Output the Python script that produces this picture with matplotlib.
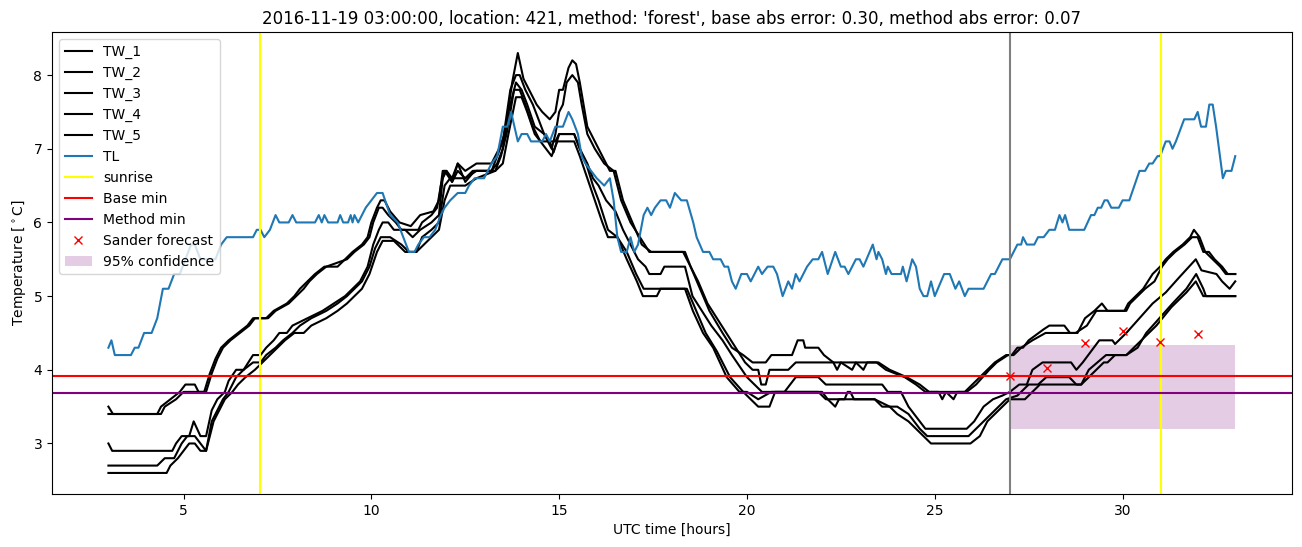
import numpy as np
import matplotlib
matplotlib.use("Agg")
import matplotlib.pyplot as plt

# (hour, temperature) pairs
tw_1 = [(3.0, 3.5), (3.12, 3.4), (4.3, 3.4), (4.4, 3.5), (4.65, 3.6), (4.9, 3.7), (5.05, 3.8), (5.3, 3.8),
        (5.4, 3.7), (5.55, 3.7), (5.7, 3.95), (5.85, 4.15), (6.0, 4.3), (6.2, 4.4), (6.45, 4.5), (6.7, 4.6),
        (6.85, 4.7), (7.2, 4.7), (7.4, 4.8), (7.75, 4.9), (7.95, 5.0), (8.1, 5.1), (8.3, 5.2), (8.5, 5.3),
        (8.75, 5.4), (9.1, 5.4), (9.3, 5.5), (9.5, 5.6), (9.75, 5.7), (9.9, 5.8), (10.0, 6.0), (10.15, 6.2),
        (10.25, 6.3), (10.35, 6.3), (10.5, 6.15), (10.75, 6.0), (11.05, 5.95), (11.3, 6.1), (11.65, 6.15),
        (11.8, 6.3), (11.9, 6.7), (12.0, 6.7), (12.15, 6.6), (12.3, 6.8), (12.5, 6.7), (12.8, 6.8),
        (13.2, 6.8), (13.4, 7.0), (13.55, 7.2), (13.75, 7.9), (13.9, 8.3), (14.05, 7.95), (14.2, 7.8),
        (14.4, 7.6), (14.55, 7.5), (14.75, 7.4), (14.9, 7.5), (15.0, 7.8), (15.1, 7.8), (15.25, 8.1),
        (15.35, 8.2), (15.45, 8.15), (15.55, 7.9), (15.75, 7.3), (15.95, 7.1), (16.15, 6.9), (16.35, 6.7),
        (16.5, 6.7), (16.7, 6.3), (16.95, 6.0), (17.2, 5.7), (17.45, 5.6), (18.35, 5.6), (18.5, 5.4),
        (18.75, 5.1), (19.0, 4.8), (19.35, 4.5), (19.6, 4.3), (19.9, 4.2), (20.15, 4.1), (20.5, 4.1),
        (20.65, 4.2), (21.2, 4.2), (21.35, 4.4), (21.5, 4.4), (21.55, 4.3), (21.9, 4.3), (22.05, 4.2),
        (22.3, 4.1), (23.5, 4.1), (23.8, 4.0), (24.25, 3.9), (24.6, 3.8), (24.85, 3.7), (25.8, 3.7),
        (26.0, 3.8), (26.4, 4.0), (26.6, 4.1), (26.9, 4.2), (27.05, 4.2), (27.2, 4.3), (27.35, 4.3),
        (27.5, 4.4), (27.9, 4.55), (28.05, 4.6), (28.45, 4.6), (28.6, 4.5), (28.8, 4.5), (29.0, 4.7),
        (29.25, 4.8), (29.45, 4.9), (29.6, 4.8), (30.05, 4.8), (30.15, 4.9), (30.35, 5.0), (30.55, 5.1),
        (30.8, 5.3), (31.0, 5.4), (31.15, 5.5), (31.35, 5.6), (31.6, 5.7), (31.8, 5.8), (31.9, 5.9),
        (32.05, 5.8), (32.2, 5.6), (32.4, 5.5), (32.6, 5.4), (32.75, 5.3), (33.0, 5.3)]

tw_2 = [(3.0, 3.4), (4.4, 3.4), (4.5, 3.5), (4.8, 3.6), (5.0, 3.7), (5.6, 3.7), (5.75, 3.95), (5.9, 4.15),
        (6.05, 4.3), (6.25, 4.4), (6.5, 4.5), (6.75, 4.6), (6.9, 4.7), (7.25, 4.7), (7.45, 4.8), (7.8, 4.9),
        (8.0, 5.0), (8.2, 5.1), (8.35, 5.2), (8.55, 5.3), (8.8, 5.4), (9.35, 5.5), (9.55, 5.6), (9.8, 5.7),
        (9.95, 5.8), (10.05, 6.0), (10.2, 6.2), (10.3, 6.2), (10.45, 6.1), (10.65, 6.0), (10.8, 5.9),
        (11.25, 5.9), (11.35, 6.0), (11.6, 6.1), (11.75, 6.2), (11.85, 6.5), (11.95, 6.7), (12.15, 6.55),
        (12.3, 6.8), (12.5, 6.55), (12.75, 6.7), (13.2, 6.7), (13.35, 6.9), (13.5, 7.1), (13.7, 7.8),
        (13.85, 8.0), (13.95, 8.0), (14.1, 7.8), (14.3, 7.6), (14.45, 7.4), (14.6, 7.2), (14.7, 7.1),
        (14.8, 7.0), (14.9, 7.2), (15.0, 7.5), (15.1, 7.6), (15.2, 7.9), (15.35, 8.0), (15.5, 7.9),
        (15.6, 7.6), (15.75, 7.2), (15.95, 7.0), (16.2, 6.8), (16.45, 6.7), (16.65, 6.3), (16.9, 6.0),
        (17.15, 5.8), (17.4, 5.6), (18.3, 5.6), (18.5, 5.4), (18.7, 5.2), (18.95, 4.9), (19.2, 4.7),
        (19.45, 4.5), (19.7, 4.3), (19.95, 4.1), (20.15, 4.0), (20.3, 4.0), (20.38, 3.8), (20.5, 3.8),
        (20.6, 4.0), (21.1, 4.0), (21.3, 4.1), (22.3, 4.1), (22.4, 4.0), (22.5, 4.1), (22.8, 4.0),
        (22.9, 4.1), (23.1, 4.0), (23.2, 4.1), (23.45, 4.1), (23.7, 4.0), (24.2, 3.9), (24.5, 3.8),
        (24.75, 3.7), (25.1, 3.7), (25.2, 3.6), (25.3, 3.7), (25.5, 3.6), (25.6, 3.7), (25.85, 3.7),
        (26.1, 3.8), (26.45, 4.0), (26.65, 4.1), (26.95, 4.2), (27.1, 4.2), (27.3, 4.3), (27.6, 4.4),
        (27.95, 4.5), (28.75, 4.5), (29.05, 4.6), (29.3, 4.8), (29.65, 4.8), (30.1, 4.8), (30.2, 4.9),
        (30.4, 5.0), (30.6, 5.1), (30.85, 5.2), (31.05, 5.4), (31.2, 5.5), (31.4, 5.6), (31.65, 5.7),
        (31.85, 5.8), (32.0, 5.8), (32.15, 5.6), (32.3, 5.6), (32.45, 5.5), (32.65, 5.4), (32.8, 5.3),
        (33.0, 5.3)]

tw_3 = [(3.0, 3.0), (3.1, 2.9), (4.7, 2.9), (4.8, 3.0), (4.95, 3.1), (5.15, 3.1), (5.27, 3.3), (5.45, 3.1),
        (5.6, 3.1), (5.75, 3.45), (5.9, 3.6), (6.1, 3.7), (6.2, 3.85), (6.4, 4.0), (6.6, 4.0), (6.85, 4.2),
        (7.05, 4.2), (7.2, 4.3), (7.4, 4.4), (7.55, 4.5), (7.75, 4.5), (7.9, 4.6), (8.3, 4.7), (8.7, 4.8),
        (9.0, 4.9), (9.3, 5.0), (9.5, 5.1), (9.7, 5.2), (9.9, 5.4), (10.05, 5.7), (10.2, 5.9), (10.3, 6.0),
        (10.45, 6.0), (10.6, 5.9), (10.9, 5.9), (11.1, 5.8), (11.3, 5.9), (11.6, 6.0), (11.8, 6.1),
        (11.9, 6.6), (12.0, 6.7), (12.15, 6.55), (12.3, 6.7), (12.5, 6.6), (12.7, 6.7), (13.2, 6.7),
        (13.35, 6.8), (13.5, 7.0), (13.65, 7.5), (13.85, 7.9), (14.0, 7.8), (14.15, 7.6), (14.35, 7.3),
        (14.6, 7.2), (14.75, 7.1), (14.85, 6.95), (15.0, 7.2), (15.4, 7.2), (15.55, 7.0), (15.75, 6.8),
        (15.9, 6.6), (16.05, 6.5), (16.25, 6.3), (16.5, 6.15), (16.7, 5.9), (16.9, 5.7), (17.1, 5.5),
        (17.3, 5.4), (17.4, 5.3), (17.7, 5.3), (17.8, 5.4), (18.35, 5.4), (18.55, 5.0), (18.8, 4.8),
        (19.05, 4.6), (19.35, 4.4), (19.6, 4.2), (19.8, 4.05), (20.0, 3.9), (20.2, 3.8), (20.4, 3.7),
        (21.0, 3.7), (21.15, 3.8), (21.3, 3.9), (21.9, 3.9), (22.1, 3.8), (23.6, 3.8), (23.75, 3.7),
        (24.1, 3.7), (24.3, 3.5), (24.6, 3.3), (24.75, 3.2), (25.85, 3.2), (26.05, 3.3), (26.3, 3.5),
        (26.55, 3.6), (26.8, 3.65), (27.0, 3.7), (27.25, 3.8), (27.45, 3.8), (27.6, 4.0), (27.87, 4.1),
        (28.63, 4.1), (28.77, 4.0), (28.94, 4.1), (29.38, 4.4), (29.73, 4.4), (29.8, 4.35), (30.1, 4.5),
        (30.45, 4.7), (30.8, 4.9), (31.15, 5.05), (31.5, 5.25), (31.77, 5.4), (31.95, 5.5), (32.1, 5.35),
        (32.5, 5.3), (32.65, 5.2), (32.85, 5.1), (33.0, 5.2)]

tw_4 = [(3.0, 2.7), (4.3, 2.7), (4.5, 2.8), (4.75, 2.8), (4.85, 2.9), (4.95, 3.0), (5.1, 3.1), (5.3, 3.1),
        (5.45, 3.0), (5.6, 2.9), (5.75, 3.3), (5.9, 3.45), (6.05, 3.6), (6.2, 3.7), (6.4, 3.9), (6.6, 4.0),
        (6.85, 4.1), (7.05, 4.1), (7.2, 4.2), (7.45, 4.3), (7.65, 4.4), (7.9, 4.5), (8.1, 4.6), (8.4, 4.7),
        (8.8, 4.8), (9.1, 4.9), (9.35, 5.0), (9.55, 5.1), (9.75, 5.2), (9.95, 5.4), (10.1, 5.65),
        (10.25, 5.8), (10.5, 5.8), (10.8, 5.7), (11.0, 5.6), (11.2, 5.6), (11.35, 5.8), (11.6, 5.9),
        (11.8, 6.0), (11.95, 6.5), (12.1, 6.6), (12.5, 6.6), (12.8, 6.7), (13.3, 6.7), (13.45, 6.9),
        (13.6, 7.2), (13.8, 7.8), (13.95, 7.8), (14.1, 7.6), (14.3, 7.3), (14.5, 7.1), (14.9, 7.1),
        (15.0, 7.2), (15.4, 7.2), (15.55, 7.0), (15.75, 6.75), (15.9, 6.5), (16.05, 6.3), (16.3, 5.9),
        (16.55, 5.8), (16.8, 5.6), (17.05, 5.3), (17.25, 5.1), (18.35, 5.1), (18.56, 4.8), (18.83, 4.5),
        (19.1, 4.3), (19.46, 3.9), (19.8, 3.7), (20.0, 3.7), (20.3, 3.6), (20.65, 3.7), (21.9, 3.7),
        (22.1, 3.6), (22.6, 3.6), (22.68, 3.7), (22.75, 3.7), (22.85, 3.6), (23.4, 3.6), (23.6, 3.5),
        (24.0, 3.5), (24.3, 3.4), (24.6, 3.2), (24.8, 3.1), (25.9, 3.1), (26.1, 3.2), (26.3, 3.3),
        (26.5, 3.4), (26.7, 3.5), (26.9, 3.6), (27.2, 3.65), (27.3, 3.7), (27.5, 3.8), (27.75, 3.8),
        (27.97, 3.9), (28.58, 3.9), (28.77, 3.8), (28.9, 3.8), (29.1, 4.0), (29.56, 4.2), (30.1, 4.2),
        (30.4, 4.3), (30.63, 4.5), (30.98, 4.7), (31.33, 4.9), (31.7, 5.1), (31.96, 5.3), (32.15, 5.1),
        (32.22, 5.0), (33.0, 5.0)]

tw_5 = [(3.0, 2.6), (4.55, 2.6), (4.65, 2.7), (4.85, 2.8), (5.0, 2.9), (5.15, 3.0), (5.3, 3.0), (5.45, 2.9),
        (5.6, 2.9), (5.8, 3.3), (5.95, 3.45), (6.1, 3.6), (6.3, 3.7), (6.45, 3.8), (6.65, 3.9), (6.9, 4.0),
        (7.1, 4.1), (7.3, 4.2), (7.5, 4.3), (7.7, 4.4), (7.95, 4.5), (8.2, 4.5), (8.4, 4.6), (8.8, 4.7),
        (9.1, 4.8), (9.35, 4.9), (9.55, 5.0), (9.75, 5.1), (9.95, 5.3), (10.15, 5.6), (10.3, 5.75),
        (10.6, 5.75), (10.9, 5.6), (11.2, 5.6), (11.4, 5.7), (11.6, 5.8), (11.8, 5.9), (11.95, 6.3),
        (12.1, 6.5), (12.5, 6.5), (12.8, 6.6), (13.3, 6.7), (13.5, 6.8), (13.65, 7.2), (13.85, 7.7),
        (14.0, 7.7), (14.15, 7.5), (14.35, 7.2), (14.5, 7.1), (14.65, 7.0), (14.8, 6.9), (14.95, 7.1),
        (15.4, 7.1), (15.55, 6.9), (15.75, 6.6), (15.95, 6.3), (16.15, 6.0), (16.3, 5.8), (16.55, 5.8),
        (16.8, 5.5), (17.07, 5.2), (17.23, 5.0), (17.6, 5.0), (17.7, 5.1), (18.4, 5.1), (18.65, 4.8),
        (18.9, 4.5), (19.2, 4.25), (19.55, 3.9), (19.9, 3.7), (20.1, 3.6), (20.3, 3.5), (20.6, 3.5),
        (20.75, 3.7), (22.0, 3.7), (22.15, 3.6), (22.35, 3.5), (22.45, 3.6), (23.4, 3.6), (23.8, 3.5),
        (24.0, 3.4), (24.3, 3.3), (24.5, 3.2), (24.7, 3.1), (24.9, 3.0), (25.95, 3.0), (26.2, 3.1),
        (26.4, 3.3), (26.6, 3.4), (26.8, 3.5), (27.0, 3.6), (27.4, 3.6), (27.6, 3.7), (27.8, 3.8),
        (28.9, 3.8), (29.1, 3.9), (29.3, 4.0), (29.5, 4.1), (29.6, 4.1), (29.8, 4.2), (30.1, 4.2),
        (30.3, 4.3), (30.5, 4.4), (30.9, 4.6), (31.3, 4.85), (31.7, 5.05), (31.95, 5.2), (32.15, 5.0),
        (33.0, 5.0)]

tl = [(3.0, 4.3), (3.08, 4.4), (3.17, 4.2), (3.6, 4.2), (3.7, 4.3), (3.8, 4.3), (3.95, 4.5), (4.15, 4.5),
      (4.3, 4.7), (4.45, 5.1), (4.6, 5.1), (4.75, 5.3), (4.9, 5.3), (5.05, 5.5), (5.2, 5.7), (5.3, 5.7),
      (5.45, 5.5), (5.85, 5.5), (6.0, 5.7), (6.15, 5.8), (6.85, 5.8), (6.95, 5.9), (7.05, 5.9),
      (7.15, 5.8), (7.3, 5.9), (7.45, 6.1), (7.55, 6.0), (7.8, 6.0), (7.9, 6.1), (8.0, 6.0), (8.5, 6.0),
      (8.6, 6.1), (8.68, 6.0), (8.75, 6.1), (8.85, 6.0), (9.1, 6.0), (9.17, 6.1), (9.25, 6.0), (9.38, 6.0),
      (9.45, 6.1), (9.5, 6.0), (9.55, 6.1), (9.65, 6.0), (9.75, 6.1), (9.85, 6.2), (10.0, 6.3),
      (10.15, 6.4), (10.3, 6.4), (10.5, 6.1), (10.7, 6.0), (10.85, 5.8), (11.0, 5.6), (11.15, 5.6),
      (11.25, 5.7), (11.4, 5.8), (11.55, 5.8), (11.7, 5.9), (11.85, 6.1), (11.95, 6.2), (12.1, 6.3),
      (12.3, 6.4), (12.5, 6.4), (12.6, 6.5), (12.75, 6.6), (13.0, 6.6), (13.2, 6.8), (13.35, 6.9),
      (13.5, 7.3), (13.62, 7.3), (13.72, 7.5), (13.9, 7.1), (14.0, 7.2), (14.15, 7.2), (14.25, 7.1),
      (14.55, 7.1), (14.65, 7.2), (14.75, 7.1), (14.9, 7.3), (15.1, 7.3), (15.25, 7.5), (15.35, 7.4),
      (15.5, 7.2), (15.6, 6.9), (15.7, 6.8), (15.85, 6.7), (16.0, 6.6), (16.2, 6.5), (16.35, 6.6),
      (16.45, 6.3), (16.55, 5.8), (16.65, 5.6), (16.8, 5.6), (16.9, 5.8), (17.0, 5.6), (17.1, 5.7),
      (17.25, 6.1), (17.35, 6.2), (17.45, 6.1), (17.55, 6.2), (17.7, 6.3), (17.85, 6.3), (17.95, 6.2),
      (18.08, 6.4), (18.25, 6.3), (18.4, 6.3), (18.57, 6.0), (18.66, 5.8), (18.83, 5.6), (19.0, 5.6),
      (19.1, 5.5), (19.3, 5.5), (19.4, 5.4), (19.5, 5.4), (19.6, 5.2), (19.7, 5.1), (19.85, 5.3),
      (20.0, 5.3), (20.1, 5.2), (20.2, 5.3), (20.3, 5.4), (20.4, 5.3), (20.55, 5.4), (20.7, 5.4),
      (20.8, 5.3), (20.95, 5.0), (21.1, 5.2), (21.2, 5.1), (21.3, 5.3), (21.4, 5.2), (21.5, 5.3),
      (21.6, 5.4), (21.75, 5.5), (21.9, 5.5), (22.0, 5.6), (22.15, 5.3), (22.35, 5.6), (22.5, 5.4),
      (22.6, 5.4), (22.7, 5.3), (22.9, 5.5), (23.0, 5.5), (23.1, 5.4), (23.35, 5.7), (23.45, 5.5),
      (23.5, 5.6), (23.6, 5.5), (23.7, 5.3), (23.75, 5.4), (23.85, 5.3), (24.1, 5.3), (24.15, 5.4),
      (24.25, 5.2), (24.4, 5.5), (24.5, 5.4), (24.6, 5.1), (24.7, 5.0), (24.8, 5.0), (24.9, 5.2),
      (25.0, 5.0), (25.25, 5.3), (25.4, 5.3), (25.55, 5.1), (25.65, 5.2), (25.8, 5.0), (25.9, 5.1),
      (26.3, 5.1), (26.5, 5.3), (26.6, 5.3), (26.8, 5.5), (27.0, 5.5), (27.2, 5.7), (27.3, 5.7),
      (27.35, 5.8), (27.45, 5.7), (27.65, 5.7), (27.75, 5.8), (27.9, 5.8), (28.05, 5.9), (28.2, 5.9),
      (28.32, 6.1), (28.4, 6.0), (28.47, 6.1), (28.58, 5.9), (28.98, 5.9), (29.16, 6.1), (29.25, 6.1),
      (29.34, 6.2), (29.43, 6.2), (29.52, 6.3), (29.6, 6.3), (29.7, 6.2), (29.9, 6.2), (30.0, 6.3),
      (30.18, 6.3), (30.45, 6.7), (30.6, 6.7), (30.71, 6.8), (30.8, 6.8), (30.93, 6.9), (31.0, 6.9),
      (31.15, 7.1), (31.25, 7.1), (31.33, 7.0), (31.42, 7.1), (31.64, 7.4), (31.91, 7.4), (32.0, 7.5),
      (32.09, 7.3), (32.22, 7.3), (32.31, 7.6), (32.4, 7.6), (32.49, 7.3), (32.67, 6.6), (32.75, 6.7),
      (32.9, 6.7), (33.0, 6.9)]

sunrise_hours = [7.03, 31.03]
forecast_start = 27.0
base_min = 3.92
method_min = 3.69
sander_hours = [27, 28, 29, 30, 31, 32]
sander_temp = [3.91, 4.03, 4.37, 4.53, 4.38, 4.48]
conf_hours = [27.0, 33.0]
conf_low = 3.19
conf_high = 4.33

title = ("2016-11-19 03:00:00, location: 421, method: 'forest', "
         "base abs error: 0.30, method abs error: 0.07")

fig = plt.figure(figsize=(13.02, 5.47), dpi=100)
ax = fig.add_subplot(111)
fig.subplots_adjust(left=0.040, right=0.992, top=0.9415, bottom=0.097)

for i, series in enumerate([tw_1, tw_2, tw_3, tw_4, tw_5]):
    t, v = np.array(series).T
    ax.plot(t, v, color='black', label='TW_%d' % (i + 1))

t, v = np.array(tl).T
ax.plot(t, v, color='C0', label='TL')

ax.axvline(sunrise_hours[0], color='yellow', label='sunrise')
ax.axvline(sunrise_hours[1], color='yellow')
ax.axvline(forecast_start, color='grey')
ax.axhline(base_min, color='red', label='Base min')
ax.axhline(method_min, color='purple', label='Method min')
ax.plot(sander_hours, sander_temp, 'rx', label='Sander forecast')
ax.fill_between(conf_hours, conf_low, conf_high, color='purple', alpha=0.2,
                linewidth=0, label='95% confidence')

ax.set_title(title)
ax.set_xlabel('UTC time [hours]')
ax.set_ylabel(r'Temperature [$^\circ$C]')
ax.legend(loc='upper left')

fig.savefig('out.png', dpi=100)
